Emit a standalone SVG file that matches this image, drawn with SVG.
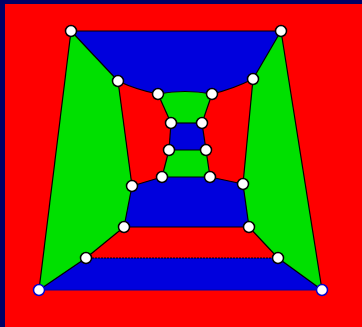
<svg xmlns="http://www.w3.org/2000/svg" width="362" height="327" viewBox="0 0 362 327">
  <style>
    .r{fill:#ff0000}
    .b{fill:#0000dd}
    .g{fill:#00e000}
    .e{fill:none;stroke:#000000;stroke-width:1.2;stroke-linejoin:round}
    .n{fill:#ffffff;stroke:#000000;stroke-width:1.5}
    .nb{fill:#ffffff;stroke:#0000cc;stroke-width:1.5}
  </style>
  <rect x="0" y="0" width="362" height="327" fill="#000066"/>
  <rect x="5" y="4" width="357" height="323" class="r"/>
  <g id="faces">
    <path class="b" d="M71,31 L281,31 L253,79 Q233,89 212,94 Q185,89 158,94 Q137,90 118,81 Z"/>
    <path class="g" d="M71,31 L118,81 L132,186 L124,227 L86,258 L39,290 Z"/>
    <path class="g" d="M281,31 L253,79 L243,184 L249,227 L278,258 L322,290 Z"/>
    <path class="r" d="M118,81 Q137,90 158,94 L171,123 L169,150 L162,177 L132,186 Z"/>
    <path class="r" d="M253,79 Q233,89 212,94 L202,123 L206,150 L210,177 L243,184 Z"/>
    <path class="g" d="M158,94 Q185,89 212,94 L202,123 L171,123 Z"/>
    <path class="b" d="M171,123 L202,123 L206,150 L169,150 Z"/>
    <path class="g" d="M169,150 L206,150 L210,177 L162,177 Z"/>
    <path class="b" d="M132,186 L162,177 L210,177 L243,184 L249,227 L124,227 Z"/>
    <path class="r" d="M124,227 L249,227 L278,258 L86,258 Z"/>
    <path class="b" d="M86,258 L278,258 L322,290 L39,290 Z"/>
  </g>
  <g id="connectors">
    <path class="e" d="M71,31 L281,31"/>
    <path class="e" d="M71,31 L39,290"/>
    <path class="e" d="M281,31 L322,290"/>
    <path class="e" d="M71,31 L118,81"/>
    <path class="e" d="M281,31 L253,79"/>
    <path class="e" d="M118,81 Q137,90 158,94"/>
    <path class="e" d="M253,79 Q233,89 212,94"/>
    <path class="e" d="M158,94 Q185,89 212,94"/>
    <path class="e" d="M118,81 L132,186"/>
    <path class="e" d="M253,79 L243,184"/>
    <path class="e" d="M158,94 L171,123"/>
    <path class="e" d="M212,94 L202,123"/>
    <path class="e" d="M171,123 L202,123"/>
    <path class="e" d="M171,123 L169,150"/>
    <path class="e" d="M202,123 L206,150"/>
    <path class="e" d="M169,150 L206,150"/>
    <path class="e" d="M169,150 L162,177"/>
    <path class="e" d="M206,150 L210,177"/>
    <path class="e" d="M162,177 L210,177"/>
    <path class="e" d="M132,186 L162,177"/>
    <path class="e" d="M210,177 L243,184"/>
    <path class="e" d="M132,186 L124,227"/>
    <path class="e" d="M243,184 L249,227"/>
    <path class="e" d="M124,227 L249,227"/>
    <path class="e" d="M124,227 L86,258"/>
    <path class="e" d="M249,227 L278,258"/>
    <path class="e" d="M86,258 L278,258" stroke-dasharray="2 1"/>
    <path class="e" d="M86,258 L39,290"/>
    <path class="e" d="M278,258 L322,290"/>
    <path d="M39,290 L322,290" fill="none" stroke="#0000aa" stroke-width="1"/>
  </g>
  <g id="nodes">
    <circle id="nA" class="n" cx="71" cy="31" r="5.5"/>
    <circle id="nF" class="n" cx="281" cy="31" r="5.5"/>
    <circle id="nB" class="n" cx="118" cy="81" r="5.5"/>
    <circle id="nG" class="n" cx="253" cy="79" r="5.5"/>
    <circle id="nC" class="n" cx="158" cy="94" r="5.5"/>
    <circle id="nH" class="n" cx="212" cy="94" r="5.5"/>
    <circle id="nD" class="n" cx="171" cy="123" r="5.5"/>
    <circle id="nI" class="n" cx="202" cy="123" r="5.5"/>
    <circle id="nE" class="n" cx="169" cy="150" r="5.5"/>
    <circle id="nJ" class="n" cx="206" cy="150" r="5.5"/>
    <circle id="nL" class="n" cx="162" cy="177" r="5.5"/>
    <circle id="nP" class="n" cx="210" cy="177" r="5.5"/>
    <circle id="nK" class="n" cx="132" cy="186" r="5.5"/>
    <circle id="nQ" class="n" cx="243" cy="184" r="5.5"/>
    <circle id="nM" class="n" cx="124" cy="227" r="5.5"/>
    <circle id="nR" class="n" cx="249" cy="227" r="5.5"/>
    <circle id="nN" class="n" cx="86" cy="258" r="5.5"/>
    <circle id="nS" class="n" cx="278" cy="258" r="5.5"/>
    <circle id="nO" class="nb" cx="39" cy="290" r="5.5"/>
    <circle id="nT" class="nb" cx="322" cy="290" r="5.5"/>
  </g>
</svg>
